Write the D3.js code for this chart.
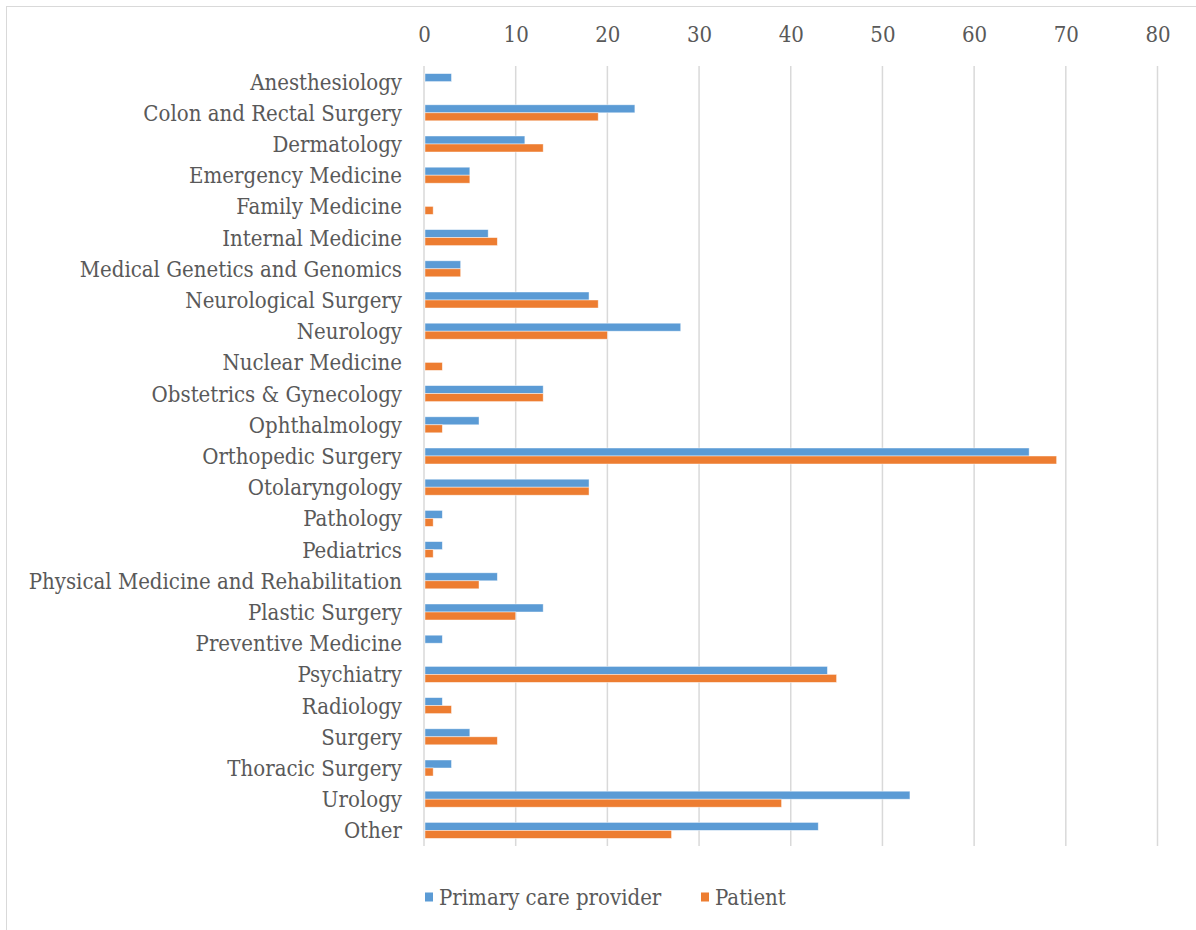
<!DOCTYPE html>
<html>
<head>
<meta charset="utf-8">
<script src="https://cdn.jsdelivr.net/npm/d3@7/dist/d3.min.js"></script>
<style>
  html, body { margin: 0; padding: 0; background: #fff; }
  svg { display: block; }
  text { font-family: "DejaVu Serif Condensed", "DejaVu Serif", "Liberation Serif", serif; font-stretch: condensed; fill: #595959; }
</style>
</head>
<body>
<svg id="chart" width="1196" height="930"></svg>
<script>
// Specialties, listed top to bottom
const categories = [
  "Anesthesiology", "Colon and Rectal Surgery", "Dermatology", "Emergency Medicine",
  "Family Medicine", "Internal Medicine", "Medical Genetics and Genomics",
  "Neurological Surgery", "Neurology", "Nuclear Medicine", "Obstetrics & Gynecology",
  "Ophthalmology", "Orthopedic Surgery", "Otolaryngology", "Pathology", "Pediatrics",
  "Physical Medicine and Rehabilitation", "Plastic Surgery", "Preventive Medicine",
  "Psychiatry", "Radiology", "Surgery", "Thoracic Surgery", "Urology", "Other"
];
const seriesNames = ["Primary care provider", "Patient"];
const primaryCare = [3, 23, 11, 5, 0, 7, 4, 18, 28, 0, 13, 6, 66, 18, 2, 2, 8, 13, 2, 44, 2, 5, 3, 53, 43];
const patient     = [0, 19, 13, 5, 1, 8, 4, 19, 20, 2, 13, 2, 69, 18, 1, 1, 6, 10, 0, 45, 3, 8, 1, 39, 27];
const xTicks = [0, 10, 20, 30, 40, 50, 60, 70, 80];
const colors = ["#5B9BD5", "#ED7D31"];

const fontSize = 22;
const svg = d3.select("#chart");

// outer chart frame
svg.append("rect")
  .attr("x", 6.5).attr("y", 6.5)
  .attr("width", 1196).attr("height", 930)
  .attr("fill", "none").attr("stroke", "#d9d9d9").attr("stroke-width", 1);

const plot = { left: 424, right: 1157.5, top: 66, bottom: 846 };

const x = d3.scaleLinear().domain([0, 80]).range([plot.left, plot.right]);
const y = d3.scaleBand().domain(categories).range([plot.top, plot.bottom]).paddingInner(0).paddingOuter(0);
const inner = d3.scaleBand().domain(seriesNames).range([0, 16]);
const barOffset = (y.bandwidth() - 16) / 2;

// vertical gridlines
svg.append("g").selectAll("line")
  .data(xTicks)
  .join("line")
  .attr("x1", d => x(d)).attr("x2", d => x(d))
  .attr("y1", plot.top).attr("y2", plot.bottom)
  .attr("stroke", "#d9d9d9").attr("stroke-width", 1.5);

// top axis labels
const xAxis = d3.axisTop(x).tickValues(xTicks).tickSize(0).tickPadding(0);
const gx = svg.append("g").attr("transform", `translate(0, 42)`).call(xAxis);
gx.attr("font-family", null).attr("font-size", null);
gx.select(".domain").remove();
gx.selectAll("text")
  .attr("font-size", fontSize)
  .attr("fill", "#595959")
  .attr("dy", 0);

// category labels
const yAxis = d3.axisLeft(y).tickSize(0).tickPadding(0);
const gy = svg.append("g").attr("transform", `translate(402, 0)`).call(yAxis);
gy.attr("font-family", null).attr("font-size", null);
gy.select(".domain").remove();
gy.selectAll("text")
  .attr("font-size", fontSize)
  .attr("fill", "#595959")
  .attr("dy", "0.36em");

// bars
const rows = categories.map((c, i) => ({ cat: c, values: [primaryCare[i], patient[i]] }));
const groups = svg.append("g").selectAll("g")
  .data(rows)
  .join("g")
  .attr("transform", d => `translate(0, ${y(d.cat) + barOffset})`);

groups.selectAll("rect")
  .data(d => d.values.map((v, k) => ({ series: seriesNames[k], value: v, k })))
  .join("rect")
  .filter(d => d.value > 0)
  .attr("x", x(0) + 1)
  .attr("y", d => inner(d.series))
  .attr("width", d => x(d.value) - x(0) - 1)
  .attr("height", inner.bandwidth())
  .attr("fill", d => colors[d.k])
  .attr("stroke", "#fff")
  .attr("stroke-opacity", 0.6)
  .attr("stroke-width", 0.75);

// legend
const legendItems = [
  { name: seriesNames[0], color: colors[0], x: 425 },
  { name: seriesNames[1], color: colors[1], x: 701 }
];
const lg = svg.append("g").selectAll("g")
  .data(legendItems)
  .join("g")
  .attr("transform", d => `translate(${d.x}, 897)`);
lg.append("rect")
  .attr("x", 0).attr("y", -4.5)
  .attr("width", 8).attr("height", 9)
  .attr("fill", d => d.color);
lg.append("text")
  .attr("x", 14).attr("y", 0)
  .attr("dy", "0.36em")
  .attr("font-size", fontSize)
  .text(d => d.name);
</script>
</body>
</html>
